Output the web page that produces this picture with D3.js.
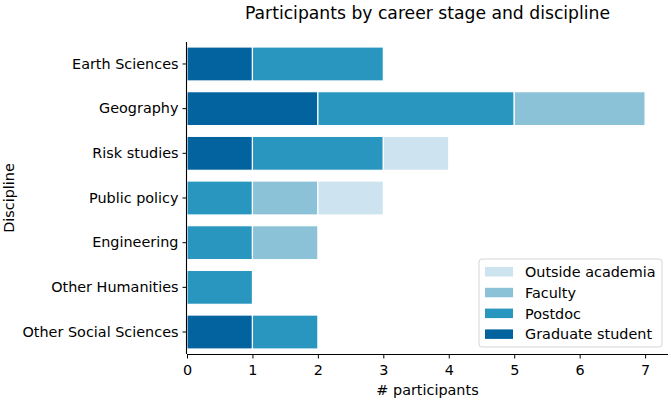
<!DOCTYPE html>
<html>
<head>
<meta charset="utf-8">
<script src="https://cdn.jsdelivr.net/npm/d3@7"></script>
<style>
  body { margin: 0; background: #fff; }
  svg text { font-family: "DejaVu Sans", sans-serif; fill: #000; }
</style>
</head>
<body>
<div id="chart-area"></div>
<script>
// data
let disciplines = ["Earth Sciences", "Geography", "Risk studies", "Public policy",
    "Engineering", "Other Humanities", "Other Social Sciences"];
let stages = ["Graduate student", "Postdoc", "Faculty", "Outside academia"];
let gradStudent = [1, 2, 1, 0, 0, 0, 1];
let postdoc     = [2, 3, 2, 1, 1, 1, 1];
let faculty     = [0, 2, 0, 1, 1, 0, 0];
let outside     = [0, 0, 1, 1, 0, 0, 0];
let xTicks = [0, 1, 2, 3, 4, 5, 6, 7];
let colors = ["#02639e", "#2896bf", "#8cc2d8", "#cde3ef"];

let margin = {top: 42, right: 3, bottom: 46, left: 187},
    width = 671 - margin.left - margin.right,
    height = 400 - margin.top - margin.bottom;

let fontSize = "14.4px";

let svg = d3.select("#chart-area").append("svg")
    .attr("width", 671)
    .attr("height", 400);

let g = svg.append("g")
    .attr("transform", "translate(" + margin.left + "," + margin.top + ")");

let rows = disciplines.map(function(d, i) {
    return {discipline: d, "Graduate student": gradStudent[i], "Postdoc": postdoc[i],
        "Faculty": faculty[i], "Outside academia": outside[i]};
});

let stacked = d3.stack().keys(stages)(rows);

let x = d3.scaleLinear()
    .domain([0, 7.35])
    .range([0, width]);

let y = d3.scaleBand()
    .domain(disciplines)
    .range([0, height])
    .paddingInner(0.24)
    .paddingOuter(0.112);

let color = d3.scaleOrdinal().domain(stages).range(colors);

// bars
g.selectAll(".series")
    .data(stacked)
    .enter().append("g")
    .attr("class", "series")
    .attr("fill", d => color(d.key))
    .selectAll("rect")
    .data(d => d.filter(s => s[1] > s[0]))
    .enter().append("rect")
    .attr("x", d => x(d[0]))
    .attr("y", d => y(d.data.discipline))
    .attr("width", d => x(d[1]) - x(d[0]))
    .attr("height", y.bandwidth())
    .attr("stroke", "#fff")
    .attr("stroke-width", 1.2);

// axes
let xAxis = d3.axisBottom(x).tickValues(xTicks).tickSize(4.5).tickPadding(6.5);
let yAxis = d3.axisLeft(y).tickSize(4.5).tickPadding(4);

let xAxisGroup = g.append("g")
    .attr("class", "x-axis axis")
    .attr("transform", "translate(0," + height + ")")
    .call(xAxis);

let yAxisGroup = g.append("g")
    .attr("class", "y-axis axis")
    .call(yAxis);

xAxisGroup.select(".domain")
    .attr("d", "M0,0.5H" + width).attr("stroke", "#000").attr("stroke-width", 1.1);
yAxisGroup.select(".domain")
    .attr("d", "M-0.5,0V" + height).attr("stroke", "#000").attr("stroke-width", 1.1);
svg.selectAll(".axis .tick line").attr("stroke", "#000").attr("stroke-width", 1);
svg.selectAll(".axis").attr("font-size", null).attr("font-family", null);
svg.selectAll(".axis text")
    .style("font-size", fontSize)
    .attr("fill", "#000");

// titles
svg.append("text")
    .attr("x", margin.left + width / 2)
    .attr("y", 19)
    .attr("text-anchor", "middle")
    .style("font-size", "17.2px")
    .text("Participants by career stage and discipline");

svg.append("text")
    .attr("x", margin.left + width / 2)
    .attr("y", 395)
    .attr("text-anchor", "middle")
    .style("font-size", fontSize)
    .text("# participants");

svg.append("text")
    .attr("transform", "translate(14," + (margin.top + height / 2) + ") rotate(-90)")
    .attr("text-anchor", "middle")
    .style("font-size", fontSize)
    .text("Discipline");

// legend (reversed order like the picture)
let legend = svg.append("g")
    .attr("transform", "translate(479,259)");

legend.append("rect")
    .attr("width", 183)
    .attr("height", 88)
    .attr("rx", 3)
    .attr("fill", "#fff")
    .attr("fill-opacity", 0.8)
    .attr("stroke", "#d5d5d5");

let items = legend.selectAll(".item")
    .data(stages.slice().reverse())
    .enter().append("g")
    .attr("class", "item")
    .attr("transform", (d, i) => "translate(6," + (7 + i * 20.8) + ")");

items.append("rect")
    .attr("width", 28)
    .attr("height", 9.5)
    .attr("y", 1)
    .attr("fill", d => color(d));

items.append("text")
    .attr("x", 40)
    .attr("y", 11)
    .style("font-size", fontSize)
    .text(d => d);
</script>
</body>
</html>
